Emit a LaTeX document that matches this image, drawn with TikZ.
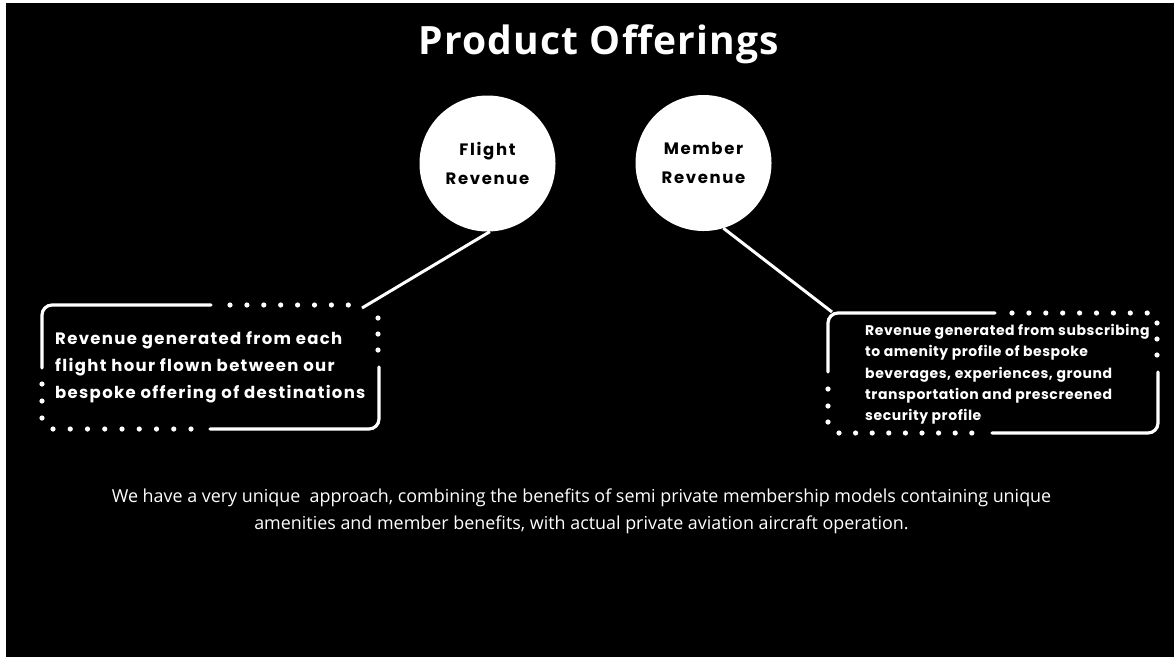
\documentclass[tikz,border=0pt]{standalone}
\usepackage{fontspec}
\newfontfamily\poptitle{Open Sans}[LetterSpace=3]
\newfontfamily\popfont{Poppins}[LetterSpace=8]
\newfontfamily\popsmall{Poppins}[LetterSpace=4]
\newfontfamily\popwide{Poppins}[LetterSpace=10]
\newfontfamily\bodyfont{Open Sans}
\tikzset{
  revcircle/.style={circle, fill=white, minimum size=136pt, inner sep=0pt, align=center,
    font=\popwide\bfseries\fontsize{16.5}{29.5}\selectfont},
  link/.style={white, line width=3pt},
  solidframe/.style={white, line width=3.2pt, line cap=round, rounded corners=10pt},
  dotmark/.style={white, fill=white},
  boxtext/.style={white, anchor=west, align=left, inner sep=0pt},
}
\begin{document}
\begin{tikzpicture}[x=1pt, y=-1pt]
	\useasboundingbox (0,0) rectangle (1174,657);
	\fill[white] (0,0) rectangle (1174,657);
	\fill[black] (6,3) rectangle (1174,657);
	% title
	\node[white, anchor=base, inner sep=0pt, font=\poptitle\bfseries\fontsize{39}{40}\selectfont] (title) at (599,54) {Product Offerings};
	% revenue circles
	\node[revcircle] (flight) at (487.5,163.5) {Flight\\Revenue};
	\node[revcircle] (member) at (703.5,163) {Member\\Revenue};
	\coordinate (flightend) at (362,308);
	\coordinate (memberend) at (832,312);
	\draw[link] (flight.-88) -- (flightend);
	\draw[link] (member.-73) -- (memberend);
	% left box
	\draw[solidframe] (211,305) -- (42,305) -- (42,368);
	\draw[solidframe] (379,367) -- (379,429) -- (210,429);
	\foreach \i in {0,...,7} \fill[dotmark] (230+\i*16.9,305) circle (2.6pt);
	\foreach \i in {0,...,8} \fill[dotmark] (53+\i*17.25,429) circle (2.6pt);
	\foreach \y in {318,334,350} \fill[dotmark] (378,\y) circle (2.6pt);
	\foreach \y in {384,401,418} \fill[dotmark] (42,\y) circle (2.6pt);
	\node[boxtext, font=\popfont\bfseries\fontsize{16.5}{27}\selectfont] (flighttext) at (55,367)
		{Revenue generated from each\\flight hour flown between our\\bespoke offering of destinations};
	% right box
	\draw[solidframe] (995,313) -- (828,313) -- (828,372);
	\draw[solidframe] (1158,372) -- (1158,433) -- (992,433);
	\foreach \i in {0,...,8} \fill[dotmark] (1012+\i*16.9,313) circle (2.6pt);
	\foreach \i in {0,...,8} \fill[dotmark] (839+\i*16.6,433) circle (2.6pt);
	\foreach \y in {323,339,355} \fill[dotmark] (1157,\y) circle (2.6pt);
	\foreach \y in {389,406,422} \fill[dotmark] (828,\y) circle (2.6pt);
	\node[boxtext, font=\popsmall\bfseries\fontsize{14}{21.3}\selectfont] (membertext) at (865,374.5)
		{Revenue generated from subscribing\\to amenity profile of bespoke\\beverages, experiences, ground\\transportation and prescreened\\security profile};
	% summary
	\node[white, align=center, font=\bodyfont\fontsize{17.9}{27}\selectfont] (summary) at (581.5,511.5)
		{We have a very unique~ approach, combining the benefits of semi private membership models containing unique\\amenities and member benefits, with actual private aviation aircraft operation.};
\end{tikzpicture}
\end{document}
